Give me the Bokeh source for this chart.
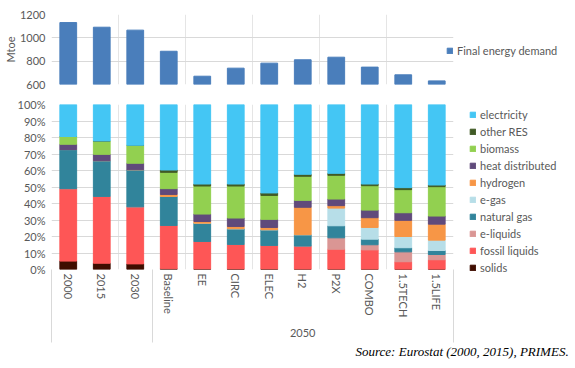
from bokeh.plotting import figure
from bokeh.models import (Range1d, LinearAxis, FixedTicker, Legend, LegendItem, Title,
                          PrintfTickFormatter, ColumnDataSource)
from bokeh.layouts import column
from bokeh.embed import file_html
from bokeh.resources import INLINE

# ---------------- data ----------------
categories = ["2000", "2015", "2030", "Baseline", "EE", "CIRC", "ELEC", "H2", "P2X",
              "COMBO", "1.5TECH", "1.5LIFE"]
group_label = "2050"
group_first_index = 3   # "Baseline" opens the 2050 group

final_energy_demand = [1131, 1091, 1066, 885, 671, 740, 783, 812, 834, 749, 683, 631]

solids          = [5.1, 3.8, 3.4, 0.5, 0.3, 0.3, 0.3, 0.2, 0.2, 0.2, 0.1, 0.1]
fossil_liquids  = [43.9, 40.5, 34.6, 26.2, 16.7, 14.9, 14.3, 14.0, 12.1, 11.7, 4.6, 5.8]
e_liquids       = [0, 0, 0, 0, 0, 0, 0, 0, 6.9, 3.1, 6.0, 3.2]
natural_gas     = [23.7, 21.7, 22.5, 17.6, 11.1, 9.5, 9.5, 6.9, 7.3, 3.4, 2.5, 2.4]
e_gas           = [0, 0, 0, 0, 0, 0, 0, 0, 10.7, 7.1, 6.8, 6.3]
hydrogen        = [0, 0, 0, 1.2, 1.0, 1.4, 1.4, 16.6, 1.5, 5.9, 9.8, 9.7]
heat_distributed = [3.2, 3.8, 3.9, 3.5, 4.5, 5.1, 4.9, 4.2, 4.0, 4.6, 4.6, 4.9]
biomass         = [4.7, 8.1, 10.9, 9.9, 17.0, 19.4, 14.5, 14.6, 14.4, 14.8, 14.0, 17.8]
other_res       = [0, 0, 0, 1.4, 1.2, 1.2, 1.5, 1.2, 1.2, 1.0, 1.2, 1.0]
electricity     = [19.4, 22.1, 24.7, 39.7, 48.2, 48.2, 53.6, 42.3, 41.7, 48.2, 50.4, 48.8]

series_names = ["solids", "fossil liquids", "e-liquids", "natural gas", "e-gas", "hydrogen",
                "heat distributed", "biomass", "other RES", "electricity"]
series_values = [solids, fossil_liquids, e_liquids, natural_gas, e_gas, hydrogen,
                 heat_distributed, biomass, other_res, electricity]
series_colors = ["#3f0d00", "#fe5656", "#da9694", "#31849b", "#b7dee8", "#f79646",
                 "#604a7b", "#92d050", "#405a25", "#44c6f4"]

pct_ticks = [0, 10, 20, 30, 40, 50, 60, 70, 80, 90, 100]
mtoe_ticks = [600, 800, 1000, 1200]
source_text = "Source: Eurostat (2000, 2015), PRIMES."

# ---------------- style ----------------
FONT = "Lato"
TXT = "#595959"
GRID = "#d9d9d9"
LEFT = 44
FRAME_W = 402
RIGHT = 117

n = len(categories)
xpos = [i + 0.5 for i in range(n)]          # category slots on a 0..n scale
edges = [0.0, float(group_first_index), float(n)]


def style_y(ax):
    ax.major_label_text_font = FONT
    ax.major_label_text_font_size = "11px"
    ax.major_label_text_color = TXT
    ax.major_label_standoff = 6
    ax.axis_line_color = None
    ax.major_tick_line_color = None
    ax.minor_tick_line_color = None
    ax.major_tick_in = 0
    ax.major_tick_out = 0
    ax.minor_tick_in = 0
    ax.minor_tick_out = 0


def legend_kw():
    return dict(padding=0, margin=0, border_line_color=None, background_fill_alpha=0,
                label_text_font=FONT, label_text_font_size="11px", label_text_color=TXT,
                glyph_width=7, glyph_height=7, label_standoff=4, spacing=4, label_height=13)


# ---------------- top chart ----------------
p1 = figure(x_range=Range1d(0, n), y_range=Range1d(600, 1200), frame_width=FRAME_W,
            frame_height=70, min_border_left=LEFT, min_border_right=RIGHT, min_border_top=14,
            min_border_bottom=8, output_backend="svg", toolbar_location=None,
            x_axis_location=None)
r_top = p1.vbar(x=xpos, top=final_energy_demand, width=0.5, color="#4a7ebb")
p1.outline_line_color = None
p1.ygrid.grid_line_color = GRID
p1.yaxis.ticker = FixedTicker(ticks=mtoe_ticks)
p1.yaxis.axis_label = "Mtoe"
p1.yaxis.axis_label_text_font = FONT
p1.yaxis.axis_label_text_font_size = "11px"
p1.yaxis.axis_label_text_font_style = "normal"
p1.yaxis.axis_label_text_color = TXT
p1.yaxis.axis_label_standoff = 0
style_y(p1.yaxis[0])

leg1 = Legend(items=[LegendItem(label="Final energy demand", renderers=[r_top])],
              location=(-7, 27), **legend_kw())
p1.add_layout(leg1, "right")

# ---------------- bottom chart ----------------
p2 = figure(x_range=Range1d(0, n), y_range=Range1d(0, 100), frame_width=FRAME_W,
            frame_height=165, min_border_left=LEFT, min_border_right=RIGHT, min_border_top=12,
            min_border_bottom=2, output_backend="svg", toolbar_location=None,
            x_axis_location=None)
data = {"x": xpos}
for nm, v in zip(series_names, series_values):
    data[nm] = v
src = ColumnDataSource(data=data)
rends = p2.vbar_stack(series_names, x="x", width=0.5, color=series_colors, source=src)
p2.outline_line_color = None
p2.ygrid.grid_line_color = GRID
p2.yaxis.ticker = FixedTicker(ticks=pct_ticks)
p2.yaxis.formatter = PrintfTickFormatter(format="%d%%")
style_y(p2.yaxis[0])

# separator lines: long ticks of a helper axis right below the frame
sep = LinearAxis(ticker=FixedTicker(ticks=edges),
                 major_tick_in=-73, major_tick_out=0, minor_tick_in=0, minor_tick_out=0,
                 major_tick_line_color=GRID, axis_line_color=None,
                 major_label_overrides={e: "" for e in edges},
                 major_label_text_font_size="0px", major_label_standoff=0)
p2.add_layout(sep, "below")

# category labels
cat = LinearAxis(ticker=FixedTicker(ticks=xpos),
                 major_label_overrides={p: c for p, c in zip(xpos, categories)},
                 major_label_orientation="vertical", major_label_text_font=FONT,
                 major_label_text_font_size="11px", major_label_text_color=TXT,
                 major_tick_line_color=None, minor_tick_line_color=None,
                 major_tick_in=0, major_tick_out=0, minor_tick_in=0, minor_tick_out=0,
                 axis_line_color=None, major_label_standoff=4)
p2.add_layout(cat, "below")

# group label
gpos = (group_first_index + n) / 2
grp = LinearAxis(ticker=FixedTicker(ticks=[gpos]), major_label_overrides={gpos: group_label},
                 major_label_text_font=FONT, major_label_text_font_size="11px",
                 major_label_text_color=TXT, major_tick_line_color=None,
                 minor_tick_line_color=None, major_tick_in=0, major_tick_out=0,
                 minor_tick_in=0, minor_tick_out=0, axis_line_color=None,
                 major_label_standoff=8)
p2.add_layout(grp, "below")

items = [LegendItem(label=nm, renderers=[r]) for nm, r in zip(series_names, rends)][::-1]
leg2 = Legend(items=items, location=(16, -5), **legend_kw())
p2.add_layout(leg2, "right")

src_title = Title(text=source_text, align="left", offset=304, text_font="Liberation Serif",
                  text_font_style="italic", text_font_size="13px", text_color="#000000",
                  standoff=4)
p2.add_layout(src_title, "below")

layout = column(p1, p2, spacing=0)
open("out.html", "w").write(file_html(layout, INLINE))
